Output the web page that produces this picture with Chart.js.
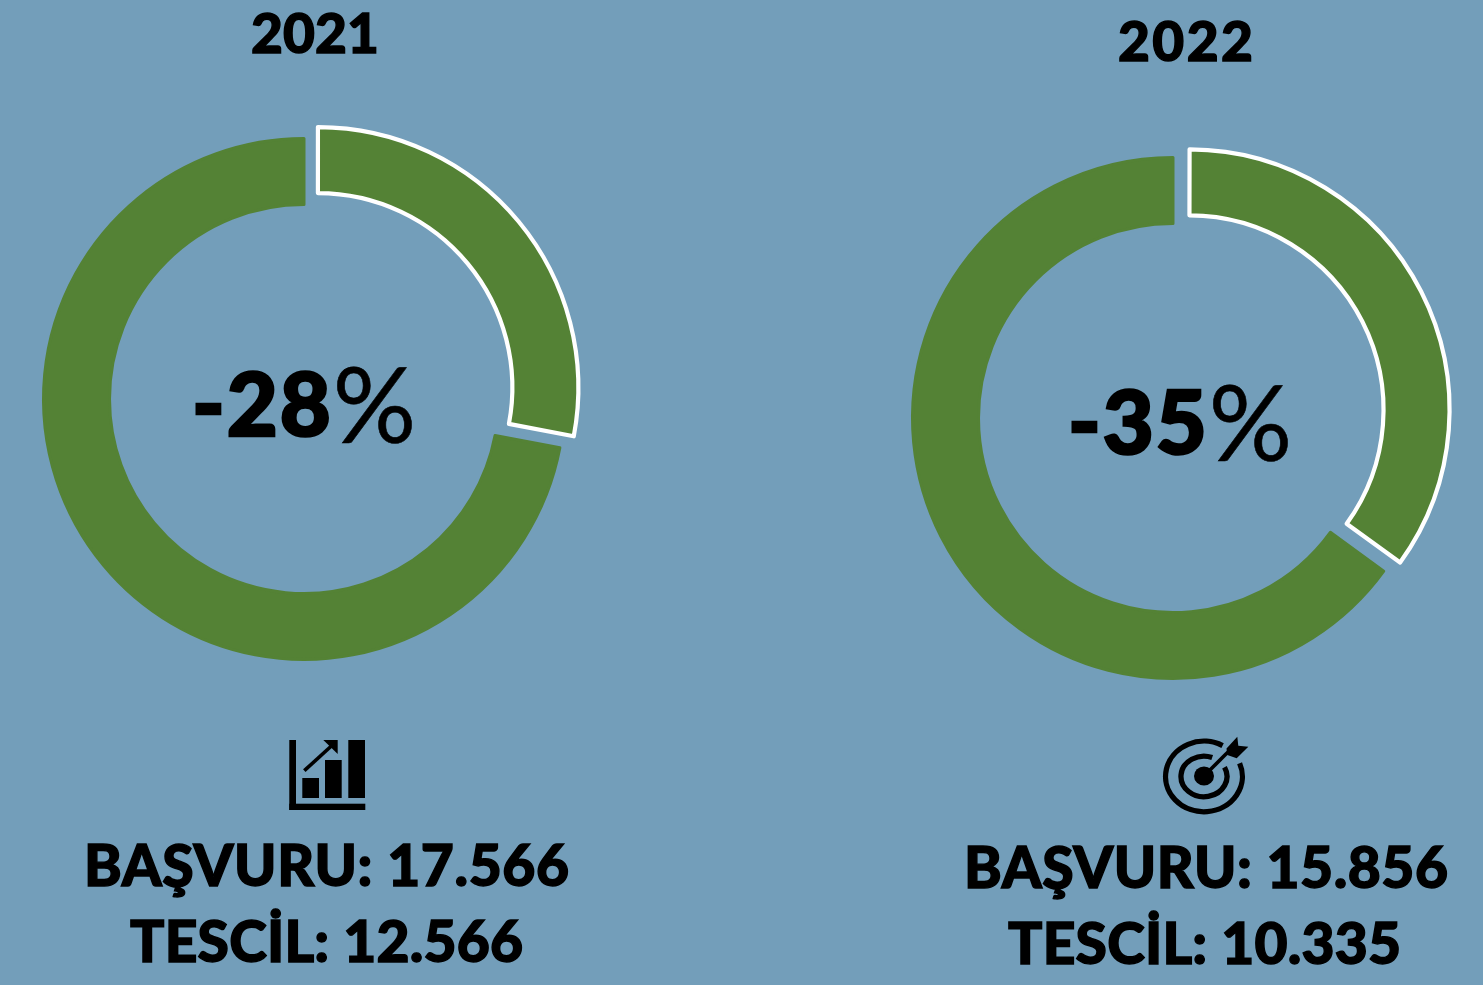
<!DOCTYPE html>
<html>
<head>
<meta charset="utf-8">
<title>2021 2022</title>
<script src="https://cdn.jsdelivr.net/npm/chart.js@4"></script>
<style>
  html, body { margin: 0; padding: 0; background: #739eba; width: 1483px; height: 985px; overflow: hidden; }
  canvas { position: absolute; top: 0; left: 0; }
  #overlay { position: absolute; left: 0; top: 0; }
  text { font-family: Lato, sans-serif; font-weight: 900; fill: #000; stroke: #000; stroke-width: 1.4; }
  #center1, #center2 { stroke-width: 2.6; }
</style>
</head>
<body>
<div style="position:absolute;left:0;top:0;width:608px;height:798px"><canvas id="c2021"></canvas></div>
<div style="position:absolute;left:863px;top:0;width:620px;height:836px"><canvas id="c2022"></canvas></div>

<svg id="overlay" width="1483" height="985" xmlns="http://www.w3.org/2000/svg">
  <text id="title1" x="251" y="53" font-size="55" textLength="128"></text>
  <text id="title2" x="1118" y="61" font-size="55" textLength="135"></text>

  <text id="center1" x="192" y="436" font-size="88" textLength="224"></text>
  <text id="center2" x="1068" y="454" font-size="88" textLength="224"></text>

  <!-- rising bars icon -->
  <g fill="#000">
    <rect x="289.3" y="740" width="6.7" height="70"/>
    <rect x="289.3" y="803.7" width="76" height="6.3"/>
    <rect x="302.3" y="778" width="16.7" height="20"/>
    <rect x="325" y="760" width="16.7" height="38"/>
    <rect x="348.3" y="740" width="16.7" height="58"/>
    <path d="M304.3 770.7L333 744.5" stroke="#000" stroke-width="3.6"/>
    <path d="M323.3 740H337.7V754Z"/>
  </g>

  <!-- target icon -->
  <g fill="none" stroke="#000" stroke-width="5.3">
    <path d="M1239.6 763.3A38.4 35.3 0 1 1 1222.6 745.6"/>
    <path d="M1224.5 767.3A23 20.3 0 1 1 1212.2 757.5"/>
    <path d="M1206 774L1230 750" stroke-width="3.6"/>
  </g>
  <ellipse cx="1204" cy="776" rx="10" ry="9.5" fill="#000"/>
  <path d="M1226.5 748.5L1237.3 736.7L1238.3 745.7L1248.3 746.7L1236.7 758.3L1227.3 755Z" fill="#000"/>

  <text id="line1a" x="84" y="886" font-size="57" textLength="485"></text>
  <text id="line2a" x="130" y="962" font-size="57" textLength="393"></text>
  <text id="line1b" x="964" y="888" font-size="57" textLength="484"></text>
  <text id="line2b" x="1008" y="964" font-size="57" textLength="393"></text>
</svg>

<script>
const categories = ['Tescil farkı', 'Tescil'];
const years = ['2021', '2022'];
const values2021 = [28, 72];
const values2022 = [35, 65];
const centerNumbers = ['-28', '-35'];
const basvuru = ['17.566', '15.856'];
const tescil = ['12.566', '10.335'];

const GREEN = '#548235';
const EXPLODE = 18; // px the small slice moves out

// chart.js moves a slice by offset/4 and also grows its radius a bit, undo the growth
const keepRadius = {
  id: 'keepRadius',
  afterDatasetsUpdate(chart) {
    const arc = chart.getDatasetMeta(0).data[0];
    const grow = EXPLODE * (1 - Math.sin(Math.min(Math.PI, arc.circumference)));
    arc.outerRadius -= grow;
    arc.innerRadius -= grow;
  }
};

function donut(id, values, w, h) {
  const canvas = document.getElementById(id);
  canvas.width = w;
  canvas.height = h;
  canvas.style.width = w + 'px';
  canvas.style.height = h + 'px';
  return new Chart(canvas, {
    type: 'doughnut',
    data: {
      labels: categories,
      datasets: [{
        data: values,
        backgroundColor: [GREEN, GREEN],
        borderColor: ['#ffffff', GREEN],
        borderWidth: [4.2, 3],
        borderJoinStyle: 'round',
        offset: [EXPLODE * 4, 0]
      }]
    },
    options: {
      responsive: false,
      animation: false,
      radius: 260.5,
      cutout: '74.66%',
      layout: { padding: 0 },
      plugins: { legend: { display: false }, tooltip: { enabled: false } }
    },
    plugins: [keepRadius]
  });
}

donut('c2021', values2021, 608, 798);
donut('c2022', values2022, 620, 836);

function setText(id, txt) { document.getElementById(id).textContent = txt; }

function setCenter(id, num) {
  const el = document.getElementById(id);
  el.textContent = num;
  const pct = document.createElementNS('http://www.w3.org/2000/svg', 'tspan');
  pct.textContent = '%';
  pct.setAttribute('font-size', '104');
  pct.setAttribute('dy', '7');
  pct.setAttribute('style', 'font-weight:400;stroke-width:0.6');
  el.appendChild(pct);
}

setText('title1', years[0]);
setText('title2', years[1]);
setCenter('center1', centerNumbers[0]);
setCenter('center2', centerNumbers[1]);
setText('line1a', 'BAŞVURU: ' + basvuru[0]);
setText('line2a', 'TESCİL: ' + tescil[0]);
setText('line1b', 'BAŞVURU: ' + basvuru[1]);
setText('line2b', 'TESCİL: ' + tescil[1]);
</script>
</body>
</html>
